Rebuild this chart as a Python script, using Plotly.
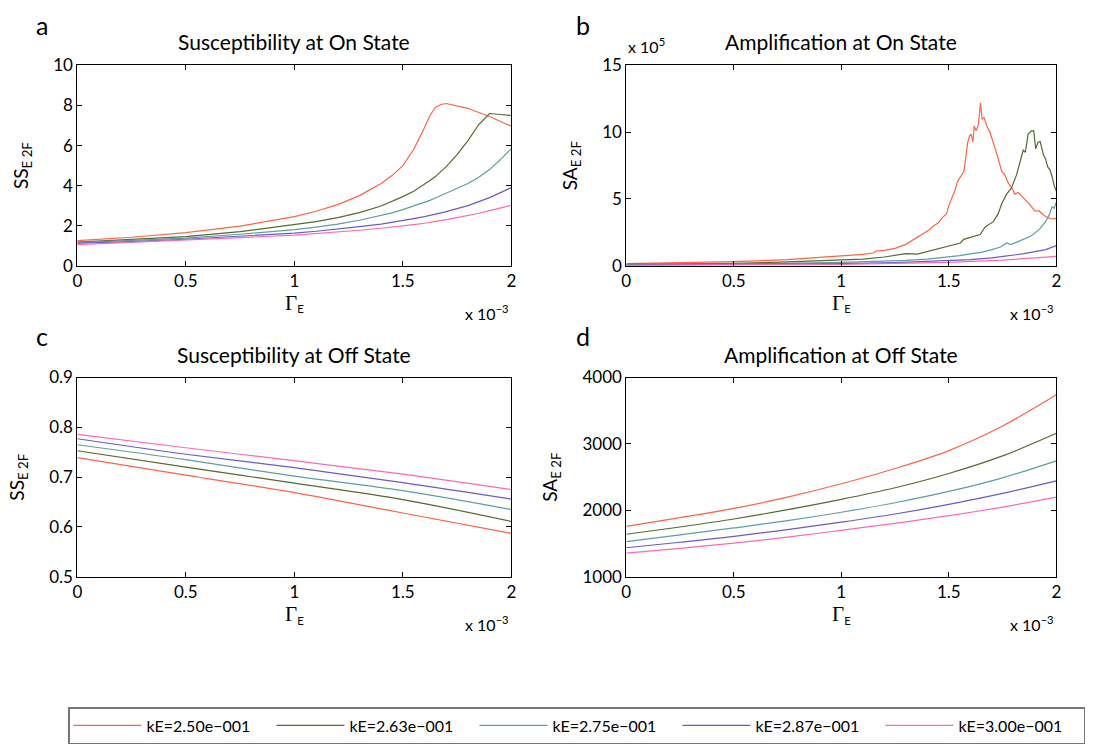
import plotly.graph_objects as go

# ---------------- data ----------------
labels = ["kE=2.50e\u2212001", "kE=2.63e\u2212001", "kE=2.75e\u2212001", "kE=2.87e\u2212001", "kE=3.00e\u2212001"]
colors = ["#FF6347", "#556B2F", "#5F9EA0", "#6A5ACD", "#FF69B4"]

# Gamma_E in units of 1e-3
gamma_a = [0, 0.25, 0.5, 0.75, 1.0, 1.1, 1.2, 1.3, 1.4, 1.45, 1.5, 1.55, 1.6, 1.625, 1.65, 1.675, 1.7, 1.75, 1.8, 1.85, 1.9, 1.95, 2.0]
ss_on_250 = [1.25, 1.42, 1.65, 1.98, 2.45, 2.72, 3.05, 3.5, 4.1, 4.5, 5.0, 5.8, 6.9, 7.5, 7.9, 8.05, 8.1, 7.98, 7.86, 7.65, 7.45, 7.2, 6.97]
ss_on_263 = [1.18, 1.3, 1.45, 1.7, 2.05, 2.2, 2.4, 2.65, 2.98, 3.2, 3.45, 3.72, 4.05, 4.25, 4.45, 4.7, 4.95, 5.55, 6.25, 7.05, 7.6, 7.55, 7.5]
ss_on_275 = [1.15, 1.25, 1.38, 1.57, 1.8, 1.93, 2.08, 2.27, 2.5, 2.64, 2.8, 2.97, 3.15, 3.26, 3.38, 3.5, 3.62, 3.85, 4.1, 4.42, 4.8, 5.3, 5.85]
ss_on_287 = [1.12, 1.2, 1.32, 1.46, 1.63, 1.72, 1.82, 1.95, 2.08, 2.16, 2.25, 2.35, 2.45, 2.51, 2.57, 2.63, 2.7, 2.85, 3.0, 3.2, 3.4, 3.65, 3.9]
ss_on_300 = [1.05, 1.16, 1.27, 1.4, 1.53, 1.6, 1.68, 1.77, 1.87, 1.92, 1.98, 2.05, 2.12, 2.16, 2.2, 2.25, 2.3, 2.4, 2.5, 2.62, 2.75, 2.88, 3.02]

# Amplification at On state (units of 1e5)
gamma_b_250 = [0, 0.25, 0.5, 0.75, 1.0, 1.1, 1.15, 1.16, 1.2, 1.25, 1.3, 1.32, 1.35, 1.37, 1.39,
               1.41, 1.43, 1.45, 1.47, 1.49, 1.5, 1.515, 1.53, 1.54, 1.555, 1.57, 1.578, 1.588, 1.597, 1.604,
               1.612, 1.618, 1.627, 1.638, 1.647, 1.655, 1.664, 1.677, 1.692, 1.707, 1.72, 1.73, 1.746, 1.761, 1.776,
               1.792, 1.807, 1.823, 1.846, 1.876, 1.90, 1.92, 1.94, 1.96, 1.98, 2.0]
sa_on_250 = [0.15, 0.22, 0.3, 0.45, 0.7, 0.85, 0.95, 1.1, 1.15, 1.3, 1.6, 1.8, 2.1, 2.3, 2.5,
             2.7, 3.0, 3.2, 3.6, 3.9, 4.5, 5.1, 5.7, 6.3, 6.7, 7.06, 8.0, 9.25, 9.74, 9.86,
             9.25, 10.46, 10.1, 10.6, 12.2, 10.96, 11.1, 10.46, 9.98, 9.25, 8.6, 8.0, 7.06, 6.8, 6.2,
             5.85, 5.36, 5.48, 5.1, 4.6, 4.1, 4.1, 3.8, 3.6, 3.5, 3.55]
gamma_b_263 = [0, 0.25, 0.5, 0.75, 1.0, 1.1, 1.2, 1.3, 1.354, 1.4, 1.477, 1.554, 1.569, 1.646, 1.669,
               1.707, 1.73, 1.746, 1.769, 1.792, 1.815, 1.83, 1.846, 1.856, 1.869, 1.884, 1.895, 1.904, 1.915, 1.925,
               1.94, 1.95, 1.96, 1.97, 1.98, 1.99, 2.0]
sa_on_263 = [0.1, 0.13, 0.18, 0.28, 0.4, 0.5, 0.65, 0.9, 0.87, 1.05, 1.36, 1.7, 1.97, 2.33, 2.9,
             3.3, 3.9, 4.64, 5.36, 5.85, 6.8, 7.8, 8.65, 8.5, 9.86, 10.1, 10.1, 8.76, 9.25, 9.3,
             8.3, 8.0, 7.4, 7.2, 6.7, 6.0, 5.6]
gamma_b_275 = [0, 0.5, 1.0, 1.2, 1.3, 1.4, 1.5, 1.55, 1.6, 1.65, 1.7, 1.74, 1.77, 1.785, 1.8, 1.846, 1.88, 1.92, 1.95, 1.97, 1.98, 1.99, 2.0]
sa_on_275 = [0.08, 0.12, 0.25, 0.33, 0.4, 0.5, 0.65, 0.75, 0.88, 1.0, 1.2, 1.4, 1.7, 1.6, 1.65, 1.97, 2.2, 2.7, 3.3, 3.9, 4.4, 4.3, 4.75]
gamma_b_287 = [0, 0.5, 1.0, 1.25, 1.5, 1.6, 1.7, 1.8, 1.85, 1.9, 1.95, 2.0]
sa_on_287 = [0.05, 0.08, 0.15, 0.23, 0.35, 0.45, 0.58, 0.78, 0.9, 1.05, 1.2, 1.5]
gamma_b_300 = [0, 0.5, 1.0, 1.5, 1.75, 1.9, 2.0]
sa_on_300 = [0.03, 0.05, 0.1, 0.25, 0.42, 0.58, 0.7]

# Susceptibility at Off state
gamma_c = [0, 0.5, 1.0, 1.5, 2.0]
ss_off_250 = [0.739, 0.704, 0.669, 0.628, 0.587]
ss_off_263 = [0.753, 0.720, 0.688, 0.655, 0.611]
ss_off_275 = [0.765, 0.735, 0.702, 0.673, 0.635]
ss_off_287 = [0.777, 0.746, 0.719, 0.689, 0.656]
ss_off_300 = [0.786, 0.759, 0.733, 0.706, 0.675]

# Amplification at Off state
gamma_d = [0, 0.25, 0.5, 0.75, 1.0, 1.25, 1.5, 1.75, 2.0]
sa_off_250 = [1760, 1890, 2030, 2200, 2400, 2630, 2900, 3270, 3740]
sa_off_263 = [1640, 1750, 1870, 2010, 2165, 2340, 2555, 2820, 3160]
sa_off_275 = [1530, 1630, 1735, 1845, 1972, 2115, 2285, 2490, 2745]
sa_off_287 = [1437, 1520, 1607, 1710, 1822, 1945, 2090, 2255, 2444]
sa_off_300 = [1355, 1428, 1506, 1596, 1700, 1805, 1920, 2050, 2200]

x_ticks = [0, 0.5, 1, 1.5, 2]
x_ticktext = ["0", "0.5", "1", "1.5", "2"]

# ---------------- figure ----------------
W, H = 1095, 754
FONT = "Lato"
fig = go.Figure()

panels = [
    ("x", "y", [gamma_a] * 5, [ss_on_250, ss_on_263, ss_on_275, ss_on_287, ss_on_300], "linear"),
    ("x2", "y2", [gamma_b_250, gamma_b_263, gamma_b_275, gamma_b_287, gamma_b_300],
     [sa_on_250, sa_on_263, sa_on_275, sa_on_287, sa_on_300], "linear"),
    ("x3", "y3", [gamma_c] * 5, [ss_off_250, ss_off_263, ss_off_275, ss_off_287, ss_off_300], "spline"),
    ("x4", "y4", [gamma_d] * 5, [sa_off_250, sa_off_263, sa_off_275, sa_off_287, sa_off_300], "spline"),
]
for p, (xa, ya, xs, ys, shape) in enumerate(panels):
    for i in range(5):
        fig.add_trace(go.Scatter(
            x=xs[i], y=ys[i], mode="lines", name=labels[i], legendgroup=labels[i],
            showlegend=(p == 0), xaxis=xa, yaxis=ya,
            line=dict(color=colors[i], width=1.2, shape=shape),
        ))

def px_x(a, b):
    return [a / W, b / W]

def px_y(top, bottom):
    return [1 - bottom / H, 1 - top / H]

axis_common = dict(
    showline=True, linecolor="black", linewidth=1, mirror="ticks",
    ticks="inside", ticklen=5, tickcolor="black", tickwidth=1,
    showgrid=False, zeroline=False,
    tickfont=dict(family=FONT, size=17, color="black"),
)
gamma_title = '<span style="font-family:Liberation Serif;font-size:21px">\u0393</span><sub>E</sub>'

xdoms = {1: px_x(73, 511), 2: px_x(627, 1061)}
ydoms = {1: px_y(56, 262), 2: px_y(377, 582)}
layout_axes = {}
specs = [
    (1, 1, 1, [0, 10], [0, 2, 4, 6, 8, 10], "SS<sub>E 2F</sub>"),
    (2, 2, 1, [0, 15], [0, 5, 10, 15], "SA<sub>E 2F</sub>"),
    (3, 1, 2, [0.5, 0.9], [0.5, 0.6, 0.7, 0.8, 0.9], "SS<sub>E 2F</sub>"),
    (4, 2, 2, [1000, 4000], [1000, 2000, 3000, 4000], "SA<sub>E 2F</sub>"),
]
for n, col, row, yr, yt, ytitle in specs:
    sx = "" if n == 1 else str(n)
    layout_axes["xaxis" + sx] = dict(
        axis_common, domain=xdoms[col], range=[0, 2], tickvals=x_ticks, ticktext=x_ticktext,
        anchor="y" + sx,
        title=dict(text=gamma_title, font=dict(family=FONT, size=16, color="black"), standoff=3),
    )
    layout_axes["yaxis" + sx] = dict(
        axis_common, domain=ydoms[row], range=yr, tickvals=yt, anchor="x" + sx,
        tickformat=".1f" if n == 3 else "d",
        title=dict(text=ytitle, font=dict(family=FONT, size=19, color="black"), standoff=19),
    )
fig.update_layout(**layout_axes)

annotations = []
titles = [("Susceptibility at On State", 292, 31), ("Amplification at On State", 844, 31),
          ("Susceptibility at Off State", 292, 353), ("Amplification at Off State", 844, 353)]
for t, cx, cy in titles:
    annotations.append(dict(text=t, x=cx / W, y=1 - cy / H, xref="paper", yref="paper",
                            xanchor="center", yanchor="middle", showarrow=False,
                            font=dict(family=FONT, size=21, color="black")))
for t, cx, cy in [("a", 37, 14), ("b", 583, 14), ("c", 37, 334), ("d", 583, 334)]:
    annotations.append(dict(text=t, x=cx / W, y=1 - cy / H, xref="paper", yref="paper",
                            xanchor="center", yanchor="middle", showarrow=False,
                            font=dict(family=FONT, size=25, color="black")))
for rx, cy in [(511, 310), (1061, 310), (511, 630), (1061, 630)]:
    annotations.append(dict(text="x 10<sup>\u22123</sup>", x=rx / W, y=1 - cy / H, xref="paper", yref="paper",
                            xanchor="right", yanchor="middle", showarrow=False,
                            font=dict(family=FONT, size=16, color="black")))
annotations.append(dict(text="x 10<sup>5</sup>", x=627 / W, y=1 - 36 / H, xref="paper", yref="paper",
                        xanchor="left", yanchor="middle", showarrow=False,
                        font=dict(family=FONT, size=16, color="black")))

fig.update_layout(
    width=W, height=H, margin=dict(l=0, r=0, t=0, b=0),
    paper_bgcolor="white", plot_bgcolor="white",
    annotations=annotations,
    legend=dict(orientation="h", x=64 / W, y=1 - 716 / H, xanchor="left", yanchor="top",
                bgcolor="white", bordercolor="#777777", borderwidth=1.5,
                font=dict(family=FONT, size=16, color="black"),
                itemwidth=68, entrywidth=120, entrywidthmode="pixels"),
)

fig.write_html("out.html")
